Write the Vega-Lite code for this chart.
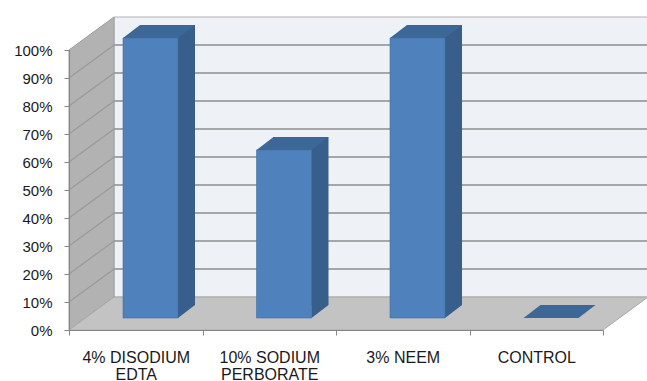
{
  "$schema": "https://vega.github.io/schema/vega-lite/v6.json",
  "autosize": {"type": "none"},
  "width": 534,
  "height": 280,
  "padding": {"left": 69, "top": 50, "right": 44, "bottom": 51},
  "background": "#ffffff",
  "config": {
    "view": {"stroke": null},
    "font": "Liberation Sans"
  },
  "datasets": {
    "bars": [
      {"group": "4% DISODIUM EDTA", "pct": 1.0},
      {"group": "10% SODIUM PERBORATE", "pct": 0.6},
      {"group": "3% NEEM", "pct": 1.0},
      {"group": "CONTROL", "pct": 0.0}
    ],
    "levels": [
      {"level": 0.1}, {"level": 0.2}, {"level": 0.3}, {"level": 0.4}, {"level": 0.5},
      {"level": 0.6}, {"level": 0.7}, {"level": 0.8}, {"level": 0.9}
    ],
    "anchor": [{"group": "4% DISODIUM EDTA", "pct": 0}]
  },
  "encoding": {
    "x": {
      "field": "group",
      "type": "nominal",
      "sort": null,
      "scale": {
        "domain": ["4% DISODIUM EDTA", "10% SODIUM PERBORATE", "3% NEEM", "CONTROL"],
        "paddingInner": 0,
        "paddingOuter": 0
      },
      "axis": {
        "title": null,
        "labelAngle": 0,
        "tickBand": "extent",
        "tickSize": 5,
        "labelPadding": 14,
        "labelFontSize": 16,
        "labelLineHeight": 17,
        "labelColor": "#1a1a1a",
        "labelFont": "Liberation Sans",
        "domainColor": "#868686",
        "tickColor": "#868686",
        "zindex": 1,
        "labelExpr": "datum.label == '4% DISODIUM EDTA' ? ['4% DISODIUM', 'EDTA'] : datum.label == '10% SODIUM PERBORATE' ? ['10% SODIUM', 'PERBORATE'] : datum.label"
      }
    },
    "y": {
      "field": "pct",
      "type": "quantitative",
      "scale": {"domain": [0, 1], "nice": false},
      "axis": {
        "title": null,
        "format": ".0%",
        "values": [0, 0.1, 0.2, 0.3, 0.4, 0.5, 0.6, 0.7, 0.8, 0.9, 1],
        "grid": false,
        "tickSize": 5,
        "labelPadding": 12,
        "labelFontSize": 15,
        "labelColor": "#1a1a1a",
        "labelFont": "Liberation Sans",
        "domainColor": "#868686",
        "tickColor": "#868686",
        "zindex": 1
      }
    }
  },
  "layer": [
    {
      "data": {"name": "anchor"},
      "mark": {"type": "point", "shape": "M45,-33 L579,-33 L579,-313 L45,-313 Z", "size": 4, "filled": true, "fill": "#eef1f6", "stroke": "#b4b4b4", "strokeWidth": 1, "opacity": 1, "xOffset": -66.75}
    },
    {
      "data": {"name": "levels"},
      "mark": {"type": "point", "shape": "M45,-33 L579,-33", "size": 4, "filled": false, "stroke": "#8c8c8c", "strokeWidth": 1.4, "opacity": 1, "xOffset": -66.75},
      "encoding": {
        "x": {"datum": "4% DISODIUM EDTA", "type": "nominal"},
        "y": {"field": "level", "type": "quantitative"}
      }
    },
    {
      "data": {"name": "anchor"},
      "mark": {"type": "point", "shape": "M0,0 L0,-280 L45,-313 L45,-33 Z", "size": 4, "filled": true, "fill": "#b2b2b2", "stroke": "#9c9c9c", "strokeWidth": 1, "opacity": 1, "xOffset": -66.75}
    },
    {
      "data": {"name": "levels"},
      "mark": {"type": "point", "shape": "M0,0 L45,-33", "size": 4, "filled": false, "stroke": "#9a9a9a", "strokeWidth": 1.2, "opacity": 1, "xOffset": -66.75},
      "encoding": {
        "x": {"datum": "4% DISODIUM EDTA", "type": "nominal"},
        "y": {"field": "level", "type": "quantitative"}
      }
    },
    {
      "data": {"name": "anchor"},
      "mark": {"type": "point", "shape": "M0,0 L534,0 L579,-33 L45,-33 Z", "size": 4, "filled": true, "fill": "#c3c3c3", "stroke": "#a8a8a8", "strokeWidth": 1, "opacity": 1, "xOffset": -66.75}
    },
    {
      "data": {"name": "bars"},
      "transform": [{"filter": "datum.pct > 0"}],
      "mark": {"type": "bar", "width": 55, "fill": "#385e8b", "xOffset": 31.75, "yOffset": -25, "y2Offset": -25, "cornerRadius": 0}
    },
    {
      "data": {"name": "bars"},
      "transform": [{"filter": "datum.pct > 0"}],
      "mark": {"type": "point", "shape": "M0,0 L17,-13 L0,-13 Z", "size": 4, "filled": true, "fill": "#385e8b", "strokeWidth": 0, "opacity": 1, "xOffset": 42.25, "yOffset": -12},
      "encoding": {
        "y": {"datum": 0, "type": "quantitative"}
      }
    },
    {
      "data": {"name": "bars"},
      "mark": {"type": "point", "shape": "M0,0 L55,0 L72,-13 L17,-13 Z", "size": 4, "filled": true, "fill": "#3d6796", "strokeWidth": 0, "opacity": 1, "xOffset": -12.75, "yOffset": -12}
    },
    {
      "data": {"name": "bars"},
      "transform": [{"filter": "datum.pct > 0"}],
      "mark": {"type": "bar", "width": 55, "fill": "#4f81bd", "stroke": "#41709f", "strokeWidth": 0.6, "xOffset": 14.75, "yOffset": -12, "y2Offset": -12, "cornerRadius": 0}
    }
  ]
}
